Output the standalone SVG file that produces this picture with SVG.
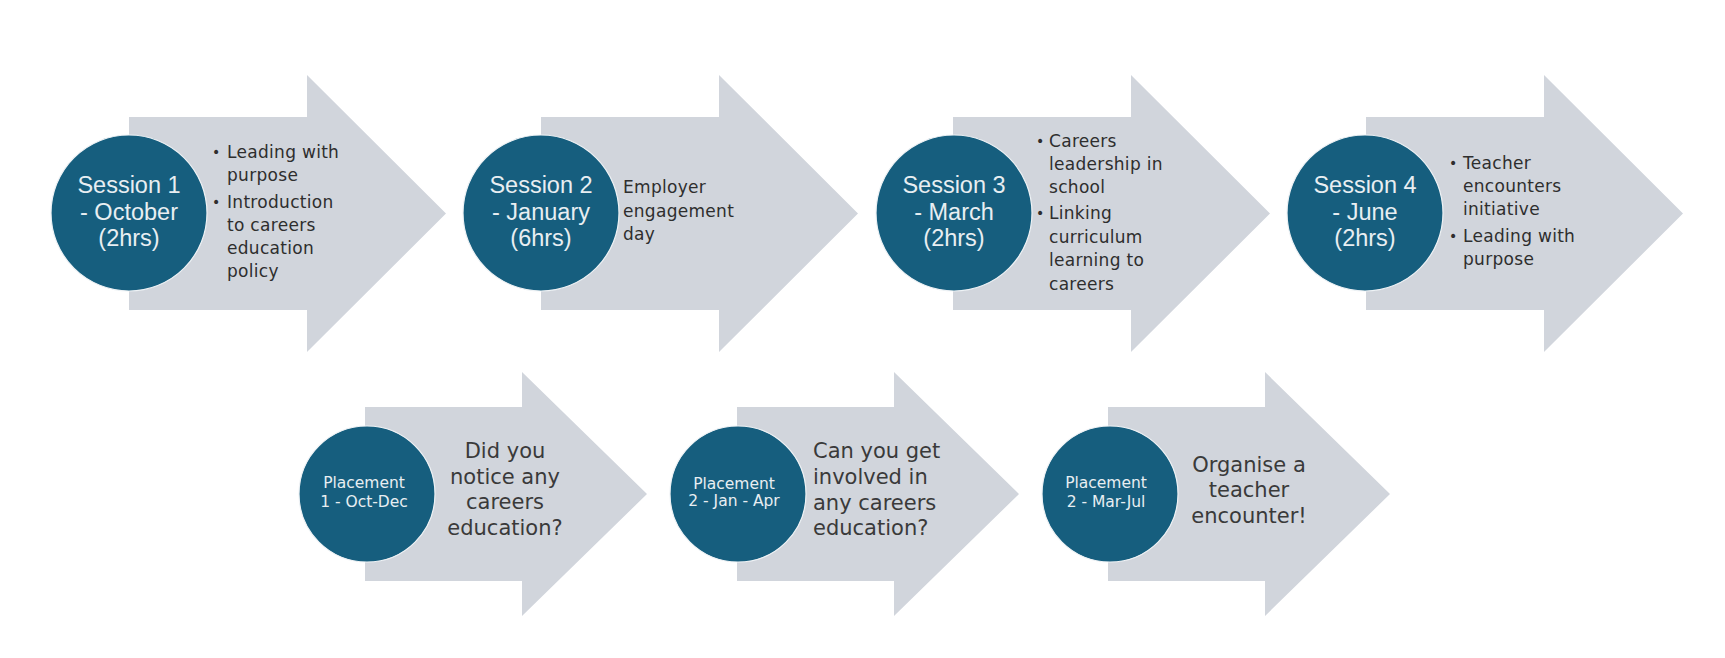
<svg xmlns="http://www.w3.org/2000/svg" width="1725" height="658" viewBox="0 0 1725 658">
<style>
.arrow{fill:#d1d5dc}
.disc{fill:#165e7e;stroke:#eef2f5;stroke-width:1.2}
.title{font-family:"Liberation Sans","Open Sans",sans-serif;font-size:23.5px;fill:#e8eef2;text-anchor:middle}
.small{font-family:"DejaVu Sans","Open Sans",sans-serif;font-size:15.5px;fill:#e8eef2;text-anchor:middle}
.bul{font-family:"DejaVu Sans","Open Sans",sans-serif;font-size:17px;letter-spacing:0.3px;fill:#2e2e2e}
.dot{font-family:"DejaVu Sans",sans-serif;font-size:14px;fill:#2e2e2e}
.q{font-family:"DejaVu Sans","Open Sans",sans-serif;font-size:21px;fill:#3a3a3a}
.mid{text-anchor:middle}
</style>
<defs>
<path id="bigArrow" d="M0,-96.5 H178 V-138.5 L317,0 L178,138.5 V96.5 H0 Z"/>
<path id="smallArrow" d="M0,-87 H157 V-122 L282,0 L157,122 V87 H0 Z"/>
</defs>
<rect width="1725" height="658" fill="#ffffff"/>

<g id="session1">
<use href="#bigArrow" class="arrow" transform="translate(129,213.5)"/>
<circle class="disc" cx="129" cy="213" r="78"/>
<text class="title"><tspan x="129" y="193">Session 1</tspan><tspan x="129" y="219.5">- October</tspan><tspan x="129" y="246">(2hrs)</tspan></text>
<text class="dot"><tspan x="212" y="157">•</tspan><tspan x="212" y="207">•</tspan></text>
<text class="bul"><tspan x="227" y="158">Leading with</tspan><tspan x="227" y="181">purpose</tspan><tspan x="227" y="208">Introduction</tspan><tspan x="227" y="231">to careers</tspan><tspan x="227" y="254">education</tspan><tspan x="227" y="277">policy</tspan></text>
</g>

<g id="session2">
<use href="#bigArrow" class="arrow" transform="translate(541,213.5)"/>
<circle class="disc" cx="541" cy="213" r="78"/>
<text class="title"><tspan x="541" y="193">Session 2</tspan><tspan x="541" y="219.5">- January</tspan><tspan x="541" y="246">(6hrs)</tspan></text>
<text class="bul"><tspan x="623" y="193">Employer</tspan><tspan x="623" y="217">engagement</tspan><tspan x="623" y="240">day</tspan></text>
</g>

<g id="session3">
<use href="#bigArrow" class="arrow" transform="translate(953,213.5)"/>
<circle class="disc" cx="954" cy="213" r="78"/>
<text class="title"><tspan x="954" y="193">Session 3</tspan><tspan x="954" y="219.5">- March</tspan><tspan x="954" y="246">(2hrs)</tspan></text>
<text class="dot"><tspan x="1036" y="146">•</tspan><tspan x="1036" y="218">•</tspan></text>
<text class="bul"><tspan x="1049" y="147">Careers</tspan><tspan x="1049" y="170">leadership  in</tspan><tspan x="1049" y="193">school</tspan><tspan x="1049" y="219">Linking</tspan><tspan x="1049" y="243">curriculum</tspan><tspan x="1049" y="266">learning to</tspan><tspan x="1049" y="290">careers</tspan></text>
</g>

<g id="session4">
<use href="#bigArrow" class="arrow" transform="translate(1366,213.5)"/>
<circle class="disc" cx="1365" cy="213" r="78"/>
<text class="title"><tspan x="1365" y="193">Session 4</tspan><tspan x="1365" y="219.5">- June</tspan><tspan x="1365" y="246">(2hrs)</tspan></text>
<text class="dot"><tspan x="1449" y="168">•</tspan><tspan x="1449" y="241">•</tspan></text>
<text class="bul"><tspan x="1463" y="169">Teacher</tspan><tspan x="1463" y="192">encounters</tspan><tspan x="1463" y="215">initiative</tspan><tspan x="1463" y="242">Leading with</tspan><tspan x="1463" y="265">purpose</tspan></text>
</g>

<g id="placement1">
<use href="#smallArrow" class="arrow" transform="translate(365,494)"/>
<circle class="disc" cx="367" cy="494" r="68"/>
<text class="small"><tspan x="364" y="488">Placement</tspan><tspan x="364" y="507">1 - Oct-Dec</tspan></text>
<text class="q mid"><tspan x="505" y="458">Did you</tspan><tspan x="505" y="484">notice any</tspan><tspan x="505" y="509">careers</tspan><tspan x="505" y="535">education?</tspan></text>
</g>

<g id="placement2">
<use href="#smallArrow" class="arrow" transform="translate(737,494)"/>
<circle class="disc" cx="738" cy="494" r="68"/>
<text class="small"><tspan x="734" y="489">Placement</tspan><tspan x="734" y="506">2 - Jan - Apr</tspan></text>
<text class="q"><tspan x="813" y="458">Can you get</tspan><tspan x="813" y="484">involved in</tspan><tspan x="813" y="510">any careers</tspan><tspan x="813" y="535">education?</tspan></text>
</g>

<g id="placement3">
<use href="#smallArrow" class="arrow" transform="translate(1108,494)"/>
<circle class="disc" cx="1110" cy="494" r="68"/>
<text class="small"><tspan x="1106" y="488">Placement</tspan><tspan x="1106" y="507">2 - Mar-Jul</tspan></text>
<text class="q mid"><tspan x="1249" y="472">Organise a</tspan><tspan x="1249" y="497">teacher</tspan><tspan x="1249" y="523">encounter!</tspan></text>
</g>
</svg>
